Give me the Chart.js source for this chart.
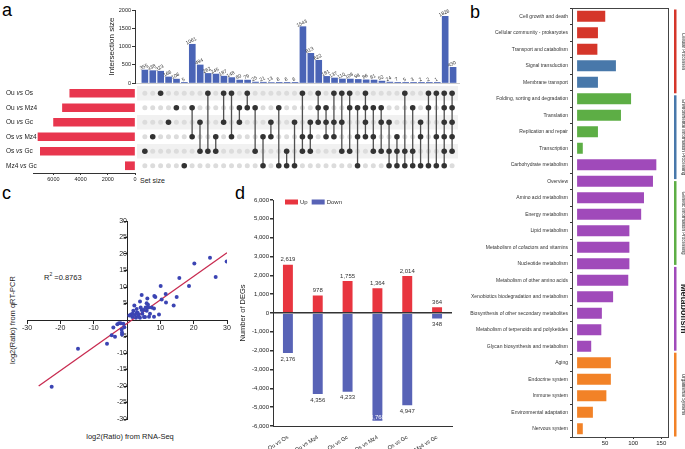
<!DOCTYPE html>
<html>
<head>
<meta charset="utf-8">
<script src="https://cdn.jsdelivr.net/npm/chart.js@4"></script>
<style>
  html, body { margin: 0; padding: 0; background: #fff; }
  #fig { position: relative; width: 685px; height: 449px; overflow: hidden;
         font-family: "Liberation Sans", Arial, sans-serif; color: #222; }
  #fig canvas { position: absolute; }
  .txt { position: absolute; white-space: nowrap; line-height: 1; }
  .letter { font-size: 18px; color: #000; }
</style>
</head>
<body>
<div id="fig">
  <div class="txt letter" style="left:2px;top:1px">a</div>
  <div class="txt letter" style="left:470px;top:3px">b</div>
  <div class="txt letter" style="left:2px;top:184px">c</div>
  <div class="txt letter" style="left:235px;top:184px">d</div>
  <div class="txt" style="left:140px;top:177px;font-size:7px">Set size</div>
  <div class="txt" style="left:44px;top:272px;font-size:7.5px">R<sup style="font-size:5px">2</sup> =0.8763</div>
  <div class="txt" style="left:130px;top:433px;font-size:7.5px;transform:translateX(-50%)">log2(Ratio) from RNA-Seq</div>
  <div class="txt" style="left:13px;top:320px;font-size:7.5px;transform:translate(-50%,-50%) rotate(-90deg)">log2(Ratio) from qRT-PCR</div>
</div>
<script>
/////////////////////
//    Constants    //
/////////////////////
const FONT = '"Liberation Sans", Arial, sans-serif';
const FIG = document.getElementById('fig');

// a: UpSet plot
const SETS = ['Ou vs Os', 'Ou vs Mz4', 'Ou vs Gc', 'Os vs Mz4', 'Os vs Gc', 'Mz4 vs Gc'];
const SET_SIZES = [4795, 5334, 5988, 7132, 6961, 712];
const INTERSECTION_SIZES = [355, 338, 323, 166, 106, 5, 1061, 494, 262, 245, 187, 148, 80, 79, 25, 21,
  13, 6, 6, 6, 1543, 813, 622, 181, 137, 110, 108, 98, 86, 81, 52, 24, 7, 5, 3, 2, 2, 1, 1826, 430];
const INTERSECTION_SETS = [[4], [3], [0], [2], [1], [5], [1, 3], [2, 4], [0, 4], [3, 4], [0, 2], [0, 3],
  [1, 2], [0, 1], [1, 4], [3, 5], [2, 3], [1, 5], [4, 5], [2, 5], [0, 3, 4], [2, 3, 4], [0, 1, 2],
  [1, 2, 3], [0, 2, 3], [0, 2, 4], [0, 1, 4], [1, 3, 5], [0, 1, 2, 3], [1, 3, 4], [1, 2, 4], [2, 4, 5],
  [3, 4, 5], [0, 4, 5], [1, 4, 5], [2, 3, 5], [0, 1, 5], [0, 3, 5], [0, 1, 2, 3, 4, 5], [0, 1, 2, 3, 4]];
const SET_SIZE_TICKS = [0, 2000, 4000, 6000];

// b: KEGG classification
const KEGG_TERMS = ['Cell growth and death', 'Cellular community - prokaryotes', 'Transport and catabolism',
  'Signal transduction', 'Membrane transport', 'Folding, sorting and degradation', 'Translation',
  'Replication and repair', 'Transcription', 'Carbohydrate metabolism', 'Overview', 'Amino acid metabolism',
  'Energy metabolism', 'Lipid metabolism', 'Metabolism of cofactors and vitamins', 'Nucleotide metabolism',
  'Metabolism of other amino acids', 'Xenobiotics biodegradation and metabolism',
  'Biosynthesis of other secondary metabolites', 'Metabolism of terpenoids and polyketides',
  'Glycan biosynthesis and metabolism', 'Aging', 'Endocrine system', 'Immune system',
  'Environmental adaptation', 'Nervous system'];
const KEGG_COUNTS = [52, 39, 38, 71, 39, 98, 80, 39, 12, 143, 137, 121, 116, 95, 95, 95, 93, 66, 46, 45, 27,
  62, 62, 54, 30, 12];
const KEGG_CLASS = [0, 0, 0, 1, 1, 2, 2, 2, 2, 3, 3, 3, 3, 3, 3, 3, 3, 3, 3, 3, 3, 4, 4, 4, 4, 4];
const KEGG_CLASSES = ['Cellular Processes', 'Environmental Information Processing',
  'Genetic Information Processing', 'Metabolism', 'Organismal Systems'];
const KEGG_COLORS = ['#D5362A', '#4878AA', '#5DAE45', '#A04ABA', '#F28227'];
const KEGG_TICKS = [50, 100, 150];

// c: qRT-PCR validation
const RNASEQ_LOG2 = [-22.6, -14.7, -6, -4.6, -4.1, -3.6, -2.9, -2.4, -1.9, -1.6, -1.5, -1.5, -1.1, -0.8,
  0.7, 1.2, 1.6, 1.7, 1.9, 2.2, 2.4, 2.7, 2.9, 2.9, 3.2, 3.4, 3.6, 3.9, 3.9, 4.1, 4.4, 4.4, 4.6, 4.9, 5.1,
  5.4, 5.6, 5.9, 5.9, 6.1, 6.3, 6.4, 6.6, 6.9, 7.4, 8.1, 8.2, 8.5, 8.1, 9.6, 10.1, 10.4, 11.6, 11.7, 14,
  14.9, 15.7, 18.6, 20.2, 24.9, 26.6, 29.9];
const QPCR_LOG2 = [-20.2, -8.7, -7.2, -4.6, -2.3, -5.1, -1.3, -1.0, -1.0, -2.9, -3.8, -4.4, -1.1, -2.2,
  1.4, 1.7, 0.9, 1.9, 2.8, 4.4, 1.5, 0.7, 3.3, 2.2, 2.2, 1.7, 1.0, 5.6, 0.7, 3.8, 7.6, 3.0, 1.9, 3.0, 0.9,
  0.9, 3.8, 5.1, 2.8, 6.5, 4.6, 3.8, 1.0, 1.9, 3.8, 3.5, 7.3, 7.0, 1.0, 1.7, 10.3, 6.2, 7.9, 5.3, 4.4,
  7.0, 12.7, 10.3, 17.1, 18.9, 13, 17.7];
const FIT_X = [-26.5, 30];
const FIT_Y = [-20, 20.4];

// d: DEG counts
const COMPARISONS = ['Ou vs Os', 'Ou vs Mz4', 'Ou vs Gc', 'Os vs Mz4', 'Os vs Gc', 'Mz4 vs Gc'];
const DEG_UP = [2619, 978, 1755, 1364, 2014, 364];
const DEG_DOWN = [2176, 4356, 4233, 5768, 4947, 348];


////////////////////////////
//    Helper Functions    //
////////////////////////////
Chart.defaults.font.family = FONT;
Chart.defaults.color = '#222';
Chart.defaults.animation = false;
Chart.defaults.plugins.legend.display = false;
Chart.defaults.plugins.tooltip.enabled = false;

function makeCanvas(left, top, width, height) {
  const canvas = document.createElement('canvas');
  canvas.width = width;
  canvas.height = height;
  canvas.style.left = left + 'px';
  canvas.style.top = top + 'px';
  canvas.style.width = width + 'px';
  canvas.style.height = height + 'px';
  FIG.appendChild(canvas);
  return canvas;
}

function fixedTicks(values) {
  return (scale) => { scale.ticks = values.map((v) => ({value: v})); };
}

const plainNumber = (v) => String(v);
const baseOptions = {responsive: false, maintainAspectRatio: false, devicePixelRatio: 1};


//////////////////////////////
//    a: intersections      //
//////////////////////////////
const X_MIN = -1.25;
const X_MAX = 39.75;

new Chart(makeCanvas(107, 0, 355, 90), {
  type: 'bar',
  data: {
    datasets: [{
      data: INTERSECTION_SIZES.map((v, i) => ({x: i, y: v})),
      backgroundColor: '#4A64B6',
      barThickness: 6
    }]
  },
  options: {
    ...baseOptions,
    layout: {padding: {top: 10, right: 3, bottom: 7, left: 0}},
    scales: {
      x: {
        type: 'linear', min: X_MIN, max: X_MAX, offset: false,
        ticks: {display: false},
        grid: {display: false},
        border: {display: true, color: '#cccccc'},
        afterFit: (s) => { s.height = 0; }
      },
      y: {
        min: 0, max: 2000,
        ticks: {stepSize: 500, font: {size: 5.5}, padding: 1, callback: plainNumber},
        grid: {drawOnChartArea: false, tickLength: 3, color: '#333'},
        border: {color: '#333'},
        title: {display: true, text: 'Intersection size', font: {size: 8}, padding: 0},
        afterFit: (s) => { s.width = 28; }
      }
    }
  },
  plugins: [{
    id: 'barLabels',
    afterDatasetsDraw(chart) {
      const ctx = chart.ctx;
      ctx.save();
      ctx.font = `5px ${FONT}`;
      ctx.fillStyle = '#333';
      ctx.textAlign = 'center';
      ctx.textBaseline = 'bottom';
      chart.getDatasetMeta(0).data.forEach((bar, i) => {
        ctx.save();
        ctx.translate(bar.x, bar.y - 1);
        ctx.rotate(-0.45);
        ctx.fillText(String(INTERSECTION_SIZES[i]), 0, 0);
        ctx.restore();
      });
      ctx.restore();
    }
  }]
});

// Set size bars + row labels
new Chart(makeCanvas(0, 80, 137, 105), {
  type: 'bar',
  data: {
    labels: SETS,
    datasets: [{data: SET_SIZES, backgroundColor: '#E8364E', barThickness: 8}]
  },
  options: {
    ...baseOptions,
    indexAxis: 'y',
    layout: {padding: {top: 6, right: 2, bottom: 0, left: 33}},
    scales: {
      y: {display: false},
      x: {
        min: 0, max: 7500, reverse: true,
        afterBuildTicks: fixedTicks(SET_SIZE_TICKS),
        ticks: {font: {size: 5.5}, padding: 1, callback: plainNumber},
        grid: {drawOnChartArea: false, tickLength: 2, color: '#333'},
        border: {color: '#333'},
        afterFit: (s) => { s.height = 12; }
      }
    }
  },
  plugins: [{
    id: 'rowLabels',
    afterDraw(chart) {
      const {ctx, scales: {y}} = chart;
      ctx.save();
      ctx.fillStyle = '#222';
      ctx.textBaseline = 'middle';
      SETS.forEach((name, i) => {
        const [left, right] = name.split(' vs ');
        const yy = y.getPixelForValue(i);
        let x = 6;
        ctx.font = `6.5px ${FONT}`;
        ctx.fillText(left + ' ', x, yy);
        x += ctx.measureText(left + ' ').width;
        ctx.font = `italic 6.5px ${FONT}`;
        ctx.fillText('vs', x, yy);
        x += ctx.measureText('vs').width;
        ctx.font = `6.5px ${FONT}`;
        ctx.fillText(' ' + right, x, yy);
      });
      ctx.restore();
    }
  }]
});

// Membership matrix
const filled = [];
const empty = [];
const links = [];
INTERSECTION_SETS.forEach((members, i) => {
  SETS.forEach((_, r) => {
    (members.includes(r) ? filled : empty).push({x: i, y: r});
  });
  if (members.length > 1) {
    links.push({
      data: [{x: i, y: Math.min(...members)}, {x: i, y: Math.max(...members)}],
      showLine: true, borderColor: '#505050', borderWidth: 1.3, pointRadius: 0
    });
  }
});

new Chart(makeCanvas(130, 80, 332, 100), {
  type: 'scatter',
  data: {
    datasets: [
      {data: filled, pointRadius: 2.8, backgroundColor: '#333', borderWidth: 0},
      ...links,
      {data: empty, pointRadius: 2.5, backgroundColor: '#DCDCDC', borderWidth: 0}
    ]
  },
  options: {
    ...baseOptions,
    layout: {padding: {top: 6, right: 3, bottom: 7, left: 5}},
    scales: {
      x: {type: 'linear', min: X_MIN, max: X_MAX, display: false},
      y: {type: 'linear', min: -0.5, max: 5.5, reverse: true, display: false}
    }
  },
  plugins: [{
    id: 'bands',
    beforeDatasetsDraw(chart) {
      const {ctx, chartArea, scales: {y}} = chart;
      ctx.save();
      ctx.fillStyle = '#F1F1F1';
      for (let r = 0; r < SETS.length; r += 2) {
        const top = y.getPixelForValue(r - 0.5);
        const bottom = y.getPixelForValue(r + 0.5);
        ctx.fillRect(chartArea.left + 2, top, chartArea.right - chartArea.left - 2, bottom - top);
      }
      ctx.restore();
    }
  }]
});


//////////////////////////
//    b: KEGG bars      //
//////////////////////////
new Chart(makeCanvas(461, 0, 224, 449), {
  type: 'bar',
  data: {
    labels: KEGG_TERMS,
    datasets: [{
      data: KEGG_COUNTS,
      backgroundColor: KEGG_CLASS.map((c) => KEGG_COLORS[c]),
      borderColor: 'rgba(255,255,255,0.55)',
      borderWidth: 1,
      barPercentage: 0.8,
      categoryPercentage: 1.0
    }]
  },
  options: {
    ...baseOptions,
    indexAxis: 'y',
    layout: {padding: {top: 8, right: 17, bottom: 0, left: 0}},
    scales: {
      y: {
        ticks: {font: {size: 5}, padding: 2, autoSkip: false, color: '#333'},
        grid: {drawOnChartArea: false, tickLength: 2, color: '#333'},
        border: {display: false},
        afterFit: (s) => { s.width = 111; }
      },
      x: {
        min: -9, max: 162,
        afterBuildTicks: fixedTicks(KEGG_TICKS),
        ticks: {font: {size: 6}, padding: 1},
        grid: {drawOnChartArea: false, tickLength: 2, color: '#333'},
        border: {display: false},
        afterFit: (s) => { s.height = 12; }
      }
    }
  },
  plugins: [{
    id: 'frameAndClasses',
    afterDraw(chart) {
      const {ctx, chartArea} = chart;
      ctx.save();
      ctx.strokeStyle = '#444';
      ctx.lineWidth = 1;
      ctx.strokeRect(chartArea.left + 0.5, chartArea.top + 0.5,
        chartArea.right - chartArea.left, chartArea.bottom - chartArea.top);
      const h = (chartArea.bottom - chartArea.top) / KEGG_CLASSES.length;
      KEGG_CLASSES.forEach((name, k) => {
        const y0 = chartArea.top + k * h + 1.5;
        const y1 = chartArea.top + (k + 1) * h - 0.5;
        ctx.fillStyle = KEGG_COLORS[k];
        ctx.fillRect(chartArea.right + 6, y0, 2.5, y1 - y0);
        ctx.save();
        ctx.translate(chartArea.right + 15, (y0 + y1) / 2);
        ctx.rotate(Math.PI / 2);
        ctx.fillStyle = '#222';
        ctx.textAlign = 'center';
        ctx.textBaseline = 'middle';
        ctx.font = name === 'Metabolism' ? `bold 9px ${FONT}` : `4.5px ${FONT}`;
        ctx.fillText(name, 0, 0);
        ctx.restore();
      });
      ctx.restore();
    }
  }]
});


////////////////////////////
//    c: qRT-PCR scatter  //
////////////////////////////
const hideZero = (v) => (v === 0 ? '' : String(v));

new Chart(makeCanvas(0, 195, 240, 254), {
  type: 'scatter',
  data: {
    datasets: [
      {
        data: RNASEQ_LOG2.map((x, i) => ({x, y: QPCR_LOG2[i]})),
        pointRadius: 2, backgroundColor: '#3B44B3', borderWidth: 0
      },
      {
        data: FIT_X.map((x, i) => ({x, y: FIT_Y[i]})),
        showLine: true, borderColor: '#C82B50', borderWidth: 1.3, pointRadius: 0
      }
    ]
  },
  options: {
    ...baseOptions,
    layout: {padding: {top: 26, right: 13, bottom: 30, left: 27}},
    scales: {
      x: {
        min: -30, max: 30, position: {y: 0},
        ticks: {stepSize: 10, font: {size: 7}, padding: 1, callback: hideZero},
        grid: {drawOnChartArea: false, tickLength: 3, color: '#222'},
        border: {color: '#222'}
      },
      y: {
        min: -30, max: 30, position: {x: 0},
        ticks: {stepSize: 5, font: {size: 7}, padding: 1, callback: hideZero},
        grid: {drawOnChartArea: false, tickLength: 3, color: '#222'},
        border: {color: '#222'}
      }
    }
  }
});


////////////////////////
//    d: DEG bars     //
////////////////////////
new Chart(makeCanvas(238, 185, 220, 264), {
  type: 'bar',
  data: {
    labels: COMPARISONS,
    datasets: [
      {label: 'Up', data: DEG_UP, backgroundColor: '#E8353F'},
      {label: 'Down', data: DEG_DOWN.map((v) => -v), backgroundColor: '#5863B6'}
    ]
  },
  options: {
    ...baseOptions,
    layout: {padding: {top: 15, right: 6, bottom: 0, left: 0}},
    datasets: {bar: {barPercentage: 0.4, categoryPercentage: 1.0, borderColor: 'rgba(255,255,255,0.5)', borderWidth: 1}},
    scales: {
      x: {
        stacked: true,
        ticks: {font: {size: 5.5}, padding: 0, autoSkip: false, maxRotation: 32, minRotation: 32},
        grid: {display: false},
        border: {color: '#333'},
        afterFit: (s) => { s.height = 23; }
      },
      y: {
        stacked: true, min: -6000, max: 6000,
        ticks: {stepSize: 1000, font: {size: 6}, padding: 1},
        grid: {
          color: (c) => (c.tick && c.tick.value === 0 ? '#333' : 'rgba(0,0,0,0)'),
          lineWidth: 1.5, tickColor: '#333', tickLength: 3
        },
        border: {color: '#333'},
        title: {display: true, text: 'Number of DEGs', font: {size: 7.5}, padding: 0},
        afterFit: (s) => { s.width = 35; }
      }
    }
  },
  plugins: [{
    id: 'valuesAndLegend',
    afterDraw(chart) {
      const {ctx, chartArea} = chart;
      ctx.save();
      ctx.font = `6px ${FONT}`;
      ctx.textAlign = 'center';
      chart.data.datasets.forEach((ds, d) => {
        chart.getDatasetMeta(d).data.forEach((bar, i) => {
          const text = Math.abs(ds.data[i]).toLocaleString('en-US');
          if (d === 0) {
            ctx.fillStyle = '#333';
            ctx.textBaseline = 'bottom';
            ctx.fillText(text, bar.x, bar.y - 1);
          } else if (bar.y + 8 > chartArea.bottom) {
            ctx.fillStyle = '#fff';
            ctx.textBaseline = 'bottom';
            ctx.fillText(text, bar.x, bar.y - 1);
          } else {
            ctx.fillStyle = '#333';
            ctx.textBaseline = 'top';
            ctx.fillText(text, bar.x, bar.y + 2);
          }
        });
      });
      // legend
      let x = chartArea.left + 12;
      const y = chartArea.top + 2;
      ctx.textAlign = 'left';
      ctx.textBaseline = 'middle';
      chart.data.datasets.forEach((ds) => {
        ctx.fillStyle = ds.backgroundColor;
        ctx.fillRect(x, y - 2.5, 13, 5);
        ctx.fillStyle = '#333';
        ctx.fillText(ds.label, x + 15, y);
        x += 15 + ctx.measureText(ds.label).width + 4;
      });
      ctx.restore();
    }
  }]
});
</script>
</body>
</html>
